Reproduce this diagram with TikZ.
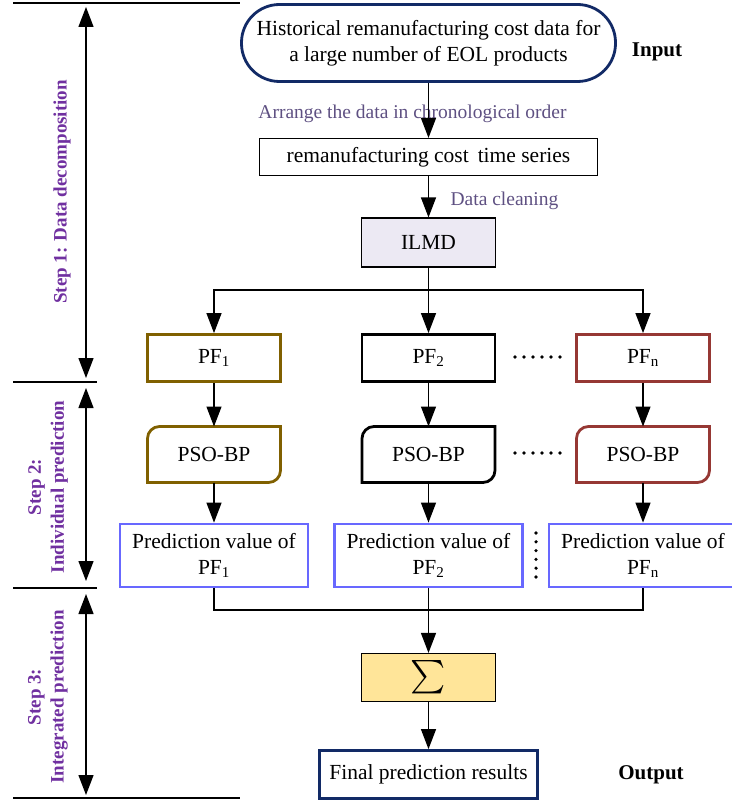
\documentclass[tikz,border=0pt]{standalone}
\usepackage{graphicx}
\usepackage{fontspec}
\setmainfont{Liberation Serif}
\usetikzlibrary{arrows.meta,calc}
\definecolor{navy}{RGB}{18,42,102}
\definecolor{brn}{RGB}{128,96,0}
\definecolor{redb}{RGB}{150,56,52}
\definecolor{pvblue}{RGB}{104,104,255}
\definecolor{steppurple}{RGB}{112,48,160}
\definecolor{lblgray}{RGB}{94,80,130}
\definecolor{ilmdfill}{RGB}{236,233,243}
\definecolor{sigfill}{RGB}{255,229,153}
\begin{document}
\begin{tikzpicture}[x=1pt,y=-1pt,
  txt/.style={font=\rmfamily\fontsize{21.5}{26}\selectfont, align=center, inner sep=0pt},
  inbox/.style={txt, draw=navy, line width=2.8pt, rounded corners=38pt, minimum width=374pt, minimum height=77pt},
  thinbox/.style={txt, draw=black, line width=1.1pt, minimum height=37pt},
  pfbox/.style={txt, draw=#1, line width=2.8pt, minimum width=133pt, minimum height=47pt},
  psonode/.style={txt, minimum width=133pt, minimum height=56pt, outer sep=0pt},
  psopath/.style={draw=#1, line width=2.8pt},
  pvbox/.style={txt, draw=pvblue, line width=2.8pt, minimum width=188pt, minimum height=63pt},
  lbl/.style={font=\rmfamily\fontsize{19.5}{22}\selectfont, text=lblgray, inner sep=0pt},
  iolbl/.style={font=\rmfamily\fontsize{21}{24}\selectfont\bfseries, inner sep=0pt},
  steplbl/.style={font=\rmfamily\fontsize{19}{23}\selectfont\bfseries, text=steppurple, align=center, inner sep=0pt, rotate=90},
  conn/.style={line width=1.3pt},
  arr/.style={conn, -{Triangle[length=20pt,width=15pt]}},
  dblarr/.style={line width=1.3pt, {Triangle[length=20pt,width=15pt]}-{Triangle[length=20pt,width=15pt]}},
  sepline/.style={line width=1.1pt}
]
\useasboundingbox (0,0) rectangle (731,805);

% separators and step arrows
\draw[sepline] (13,3) -- (240,3);
\draw[sepline] (13,382) -- (97,382);
\draw[sepline] (13,588) -- (97,588);
\draw[sepline] (13,798) -- (240,798);
\draw[dblarr] (86,7) -- (86,378);
\draw[dblarr] (86,388) -- (86,581);
\draw[dblarr] (86,594) -- (86,795);
\node[steplbl] (s1) at (62,192) {Step 1: Data decomposition};
\node[steplbl] (s2) at (48,487) {Step 2:\\Individual prediction};
\node[steplbl] (s3) at (48,697) {Step 3:\\Integrated prediction};

% top part
\node[inbox] (in) at (428.5,43) {Historical remanufacturing cost data for\\a large number of EOL products};
\node[iolbl] (inl) at (657,52) {Input};
\node[lbl] (arrl) at (412.5,114) {Arrange the data in chronological order};
\node[thinbox, minimum width=338pt] (ts) at (428.5,157) {remanufacturing cost\, time series};
\node[lbl] (dcl) at (504.5,201) {Data cleaning};
\node[thinbox, fill=ilmdfill, minimum width=134pt, minimum height=49pt] (ilmd) at (428.5,242.5) {ILMD};

\draw[arr] (in) -- (ts);
\draw[arr] (ts) -- (ilmd);

% PF row
\node[pfbox=brn] (pf1) at (214,358) {PF\textsubscript{1}};
\node[pfbox=black] (pf2) at (428.5,358) {PF\textsubscript{2}};
\node[pfbox=redb] (pfn) at (643,358) {PF\textsubscript{n}};

\coordinate (br) at (428.5,290);
\draw[conn] (ilmd) -- (br);
\draw[arr] (br) -| (pf1);
\draw[arr] (br) -- (pf2);
\draw[arr] (br) -| (pfn);

% PSO-BP row
\node[psonode] (ps1) at (214,454.5) {PSO-BP};
\node[psonode] (ps2) at (428.5,454.5) {PSO-BP};
\node[psonode] (psn) at (643,454.5) {PSO-BP};
\foreach \p/\c in {ps1/brn, ps2/black, psn/redb}{
  \draw[psopath=\c] (\p.west) [rounded corners=12pt] -- (\p.north west) [sharp corners] -- (\p.north east) -- (\p.east) [rounded corners=12pt] -- (\p.south east) [sharp corners] -- (\p.south west) -- cycle;
}

% prediction value row
\node[pvbox] (pv1) at (214,555.5) {Prediction value of\\PF\textsubscript{1}};
\node[pvbox] (pv2) at (428.5,555.5) {Prediction value of\\PF\textsubscript{2}};
\node[pvbox] (pvn) at (643,555.5) {Prediction value of\\PF\textsubscript{n}};

\draw[arr] (pf1) -- (ps1);
\draw[arr] (pf2) -- (ps2);
\draw[arr] (pfn) -- (psn);
\draw[arr] (ps1) -- (pv1);
\draw[arr] (ps2) -- (pv2);
\draw[arr] (psn) -- (pvn);

% dots
\foreach \i in {0,...,5}{
  \fill (515+\i*9,357) circle (1.8pt);
  \fill (515+\i*9,453) circle (1.8pt);
  \fill (536,533+\i*8.8) circle (1.8pt);
}

% sum and output
\node[thinbox, fill=sigfill, minimum width=134pt, minimum height=48pt] (sig) at (428.5,677.5) {\resizebox{!}{34pt}{$\sum$}};
\node[txt, draw=navy, line width=2.8pt, minimum width=218pt, minimum height=48pt] (fin) at (428.5,774.5) {Final prediction results};
\node[iolbl] (outl) at (651,775) {Output};

\coordinate (mg) at (428.5,610);
\draw[conn] (pv1) |- (mg);
\draw[conn] (pvn) |- (mg);
\draw[arr] (pv2) -- (sig);
\draw[arr] (sig) -- (fin);
\end{tikzpicture}
\end{document}
